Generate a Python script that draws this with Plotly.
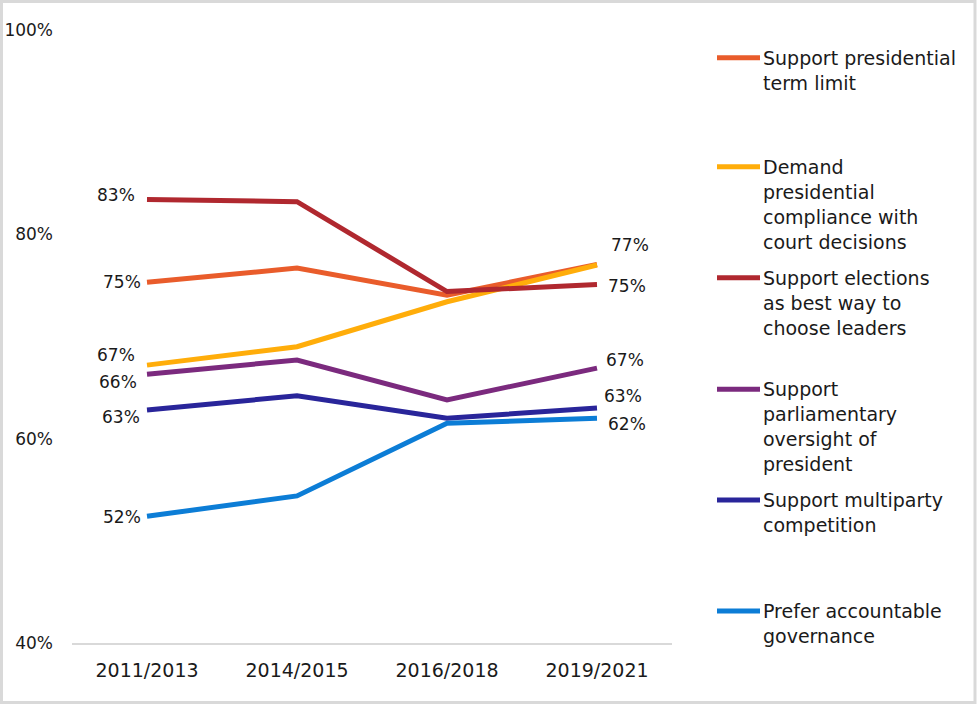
import plotly.graph_objects as go

# ---------------- data ----------------
categories = ["2011/2013", "2014/2015", "2016/2018", "2019/2021"]

term_limit = [75.3, 76.7, 74.05, 77.05]
compliance = [67.2, 69.0, 73.4, 77.0]
elections = [83.4, 83.2, 74.4, 75.1]
parliament = [66.3, 67.7, 63.8, 66.9]
multiparty = [62.8, 64.2, 62.0, 63.0]
accountable = [52.4, 54.4, 61.5, 62.0]

series_names = [
    "Support presidential term limit",
    "Demand presidential compliance with court decisions",
    "Support elections as best way to choose leaders",
    "Support parliamentary oversight of president",
    "Support multiparty competition",
    "Prefer accountable governance",
]
legend_lines = [
    ["Support presidential", "term limit"],
    ["Demand", "presidential", "compliance with", "court decisions"],
    ["Support elections", "as best way to", "choose leaders"],
    ["Support", "parliamentary", "oversight of", "president"],
    ["Support multiparty", "competition"],
    ["Prefer accountable", "governance"],
]
series_values = [term_limit, compliance, elections, parliament, multiparty, accountable]

y_ticks = [40, 60, 80, 100]

# ---------------- style ----------------
colors = ["#E95C2B", "#FFAD0A", "#B0282F", "#7B2A7E", "#29259A", "#0C7DD6"]
FONT = "DejaVu Sans"
TEXT = "#1a1a1a"

# label offsets (px): (show_left, left_xshift, left_yshift, show_right, right_xshift, right_yshift)
label_style = [
    (True, -4, 0, False, 0, 0),
    (True, -10, 10, True, 12, 20),
    (True, -10, 5, True, 9, -2),
    (True, -8, -8, True, 7, 8),
    (True, -5, -7, True, 5, 12),
    (True, -4, -1, True, 9, -6),
]

W, H = 977, 704
ML, MR, MT, MB = 72, 305, 30, 61
PW = W - ML - MR
PH = H - MT - MB


def px_x(px):
    return (px - ML) / PW


def px_y(py):
    return (H - MB - py) / PH


fig = go.Figure()
for name, vals, col in zip(series_names, series_values, colors):
    fig.add_trace(go.Scatter(
        x=categories, y=vals, mode="lines", name=name,
        line=dict(color=col, width=5), showlegend=False,
        hoverinfo="skip",
    ))

annotations = []
for vals, st in zip(series_values, label_style):
    sl, lx, ly, sr, rx, ry = st
    if sl:
        annotations.append(dict(
            x=categories[0], y=vals[0], xref="x", yref="y",
            text=f"{round(vals[0])}%", showarrow=False,
            xanchor="right", yanchor="middle", xshift=lx, yshift=ly,
            font=dict(family=FONT, size=17, color=TEXT),
        ))
    if sr:
        annotations.append(dict(
            x=categories[-1], y=vals[-1], xref="x", yref="y",
            text=f"{round(vals[-1])}%", showarrow=False,
            xanchor="left", yanchor="middle", xshift=rx, yshift=ry,
            font=dict(family=FONT, size=17, color=TEXT),
        ))

# custom legend
shapes = []
first_centers = [57.7, 166.7, 277.7, 389.3, 500, 611]
for lines, col, yc in zip(legend_lines, colors, first_centers):
    shapes.append(dict(
        type="line", xref="paper", yref="paper",
        x0=px_x(717), x1=px_x(760), y0=px_y(yc), y1=px_y(yc),
        line=dict(color=col, width=5),
    ))
    for i, ln in enumerate(lines):
        annotations.append(dict(
            x=px_x(761), y=px_y(yc + i * 25), xref="paper", yref="paper",
            text=ln, showarrow=False, xanchor="left", yanchor="middle",
            font=dict(family=FONT, size=19, color=TEXT),
        ))

# outer frame
shapes.append(dict(
    type="rect", xref="paper", yref="paper",
    x0=px_x(1.5), x1=px_x(975), y0=px_y(1.5), y1=px_y(702.5),
    line=dict(color="#D9D9D9", width=3), layer="above",
))

fig.update_layout(
    width=W, height=H,
    margin=dict(l=ML, r=MR, t=MT, b=MB, pad=0, autoexpand=False),
    paper_bgcolor="white", plot_bgcolor="white",
    font=dict(family=FONT, size=19, color=TEXT),
    xaxis=dict(
        type="category", range=[-0.5, 3.5], showgrid=False,
        showline=True, linecolor="#D9D9D9", linewidth=2,
        ticks="", tickfont=dict(family=FONT, size=19, color=TEXT),
        ticklabelstandoff=9, zeroline=False, automargin=False,
    ),
    yaxis=dict(
        range=[40, 100], tickvals=y_ticks,
        ticktext=[f"{v}%" for v in y_ticks],
        showgrid=False, showline=False, zeroline=False, ticks="",
        tickfont=dict(family=FONT, size=17, color=TEXT),
        ticklabelstandoff=18, automargin=False,
    ),
    annotations=annotations,
    shapes=shapes,
    showlegend=False,
)

fig.write_html("out.html")
